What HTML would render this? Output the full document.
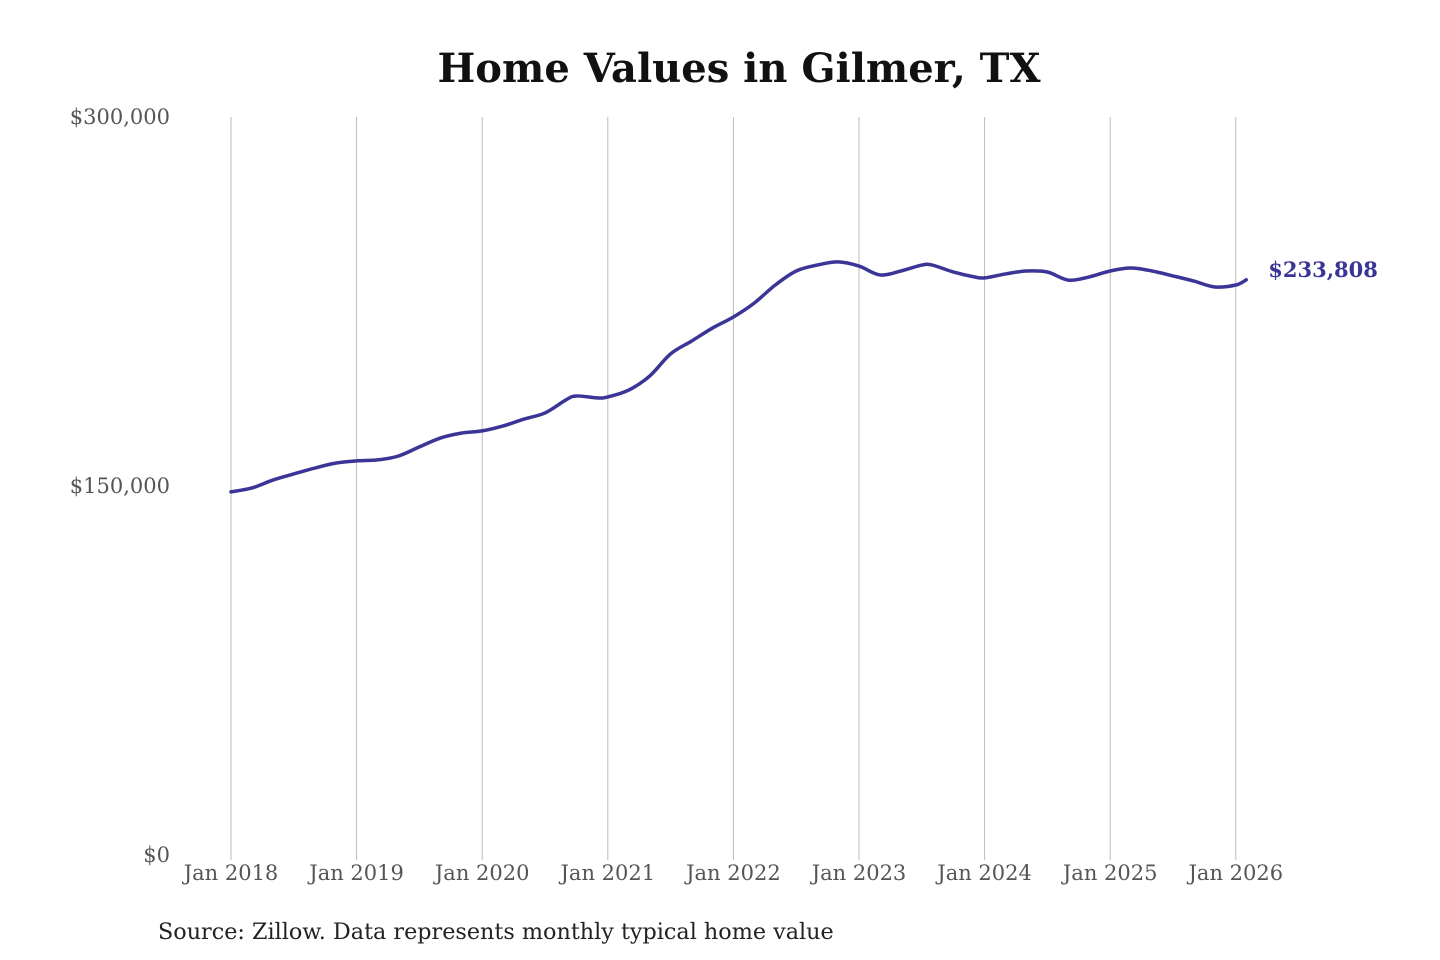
<!DOCTYPE html>
<html><head><meta charset="utf-8"><style>
html,body{margin:0;padding:0;background:#fff;}
svg{display:block}
text{font-family:"DejaVu Serif","Liberation Serif",serif;}
</style></head><body>
<svg id="chart" width="1440" height="960">
<text x="739" y="82" text-anchor="middle" font-size="40" font-weight="bold" fill="#111">Home Values in Gilmer, TX</text>
<g id="grid"></g><g id="yaxis"></g><g id="xaxis"></g><g id="series"></g>
<text x="158" y="939" font-size="22.3" fill="#222">Source: Zillow. Data represents monthly typical home value</text>
</svg>
<script>
const dates=["2018-01","2018-03","2018-05","2018-07","2018-09","2018-11","2019-01","2019-03","2019-05","2019-07","2019-09","2019-11","2020-01","2020-03","2020-05","2020-07","2020-09","2020-10","2020-12","2021-01","2021-03","2021-05","2021-07","2021-09","2021-11","2022-01","2022-03","2022-05","2022-07","2022-09","2022-11","2023-01","2023-03","2023-05","2023-07","2023-08","2023-10","2023-12","2024-01","2024-03","2024-05","2024-07","2024-09","2024-11","2025-01","2025-03","2025-05","2025-07","2025-09","2025-11","2026-01","2026-02"];
const values=[147600,149200,152400,154900,157300,159300,160200,160600,162200,165900,169500,171500,172400,174400,177200,179700,185000,186600,185800,186200,189000,194700,203700,208900,214200,218700,224400,231700,237400,239800,241100,239400,235800,237400,239800,239800,237000,235000,234600,236200,237400,237000,233700,235000,237400,238600,237400,235400,233300,230900,231700,233808];
const yTicks=[0,150000,300000];
const yTickLabels=["$0","$150,000","$300,000"];
const xTickYears=[2018,2019,2020,2021,2022,2023,2024,2025,2026];
const endLabel="$233,808";
const NS="http://www.w3.org/2000/svg";
const x0=231,pxYear=125.6,yBase=855,yTop=117,yMax=300000;
function xs(d){const[y,m]=d.split("-").map(Number);return x0+(y-2018+(m-1)/12)*pxYear;}
function xy(y){return x0+(y-2018)*pxYear;}
function ys(v){return yBase-(v/yMax)*(yBase-yTop);}
function el(t,a,p){const e=document.createElementNS(NS,t);for(const k in a)e.setAttribute(k,a[k]);p.appendChild(e);return e;}
const grid=document.getElementById('grid'),xa=document.getElementById('xaxis'),ya=document.getElementById('yaxis'),se=document.getElementById('series');
xTickYears.forEach(yr=>{
 const l=el('line',{x1:xy(yr),x2:xy(yr),y1:yTop,y2:yBase+5,stroke:'#bbb','stroke-width':1},grid);
 
 
 const t=el('text',{x:xy(yr),y:880,'text-anchor':'middle','font-size':21,fill:'#555'},xa);
 t.textContent='Jan '+yr;
 
 
});
yTicks.forEach((v,i)=>{
 const t=el('text',{x:170,y:ys(v)+7,'text-anchor':'end','font-size':21,fill:'#555'},ya);
 t.textContent=yTickLabels[i];
 
 
});
const pts=dates.map((d,i)=>[xs(d),ys(values[i])]);
let d='M'+pts[0][0]+','+pts[0][1];
for(let i=0;i<pts.length-1;i++){
 const p0=pts[Math.max(0,i-1)],p1=pts[i],p2=pts[i+1],p3=pts[Math.min(pts.length-1,i+2)];
 const c1=[p1[0]+(p2[0]-p0[0])/6,p1[1]+(p2[1]-p0[1])/6],c2=[p2[0]-(p3[0]-p1[0])/6,p2[1]-(p3[1]-p1[1])/6];
 d+=' C'+c1+' '+c2+' '+p2;
}
const path=el('path',{d:d,fill:'none',stroke:'#3a3596','stroke-width':3.5,'stroke-linejoin':'round','stroke-linecap':'round'},se);


const last=pts[pts.length-1];
const lab=el('text',{x:last[0]+22,y:last[1]-3,'font-size':21,'font-weight':'bold',fill:'#3a3596'},se);
lab.textContent=endLabel;


</script>
</body></html>
